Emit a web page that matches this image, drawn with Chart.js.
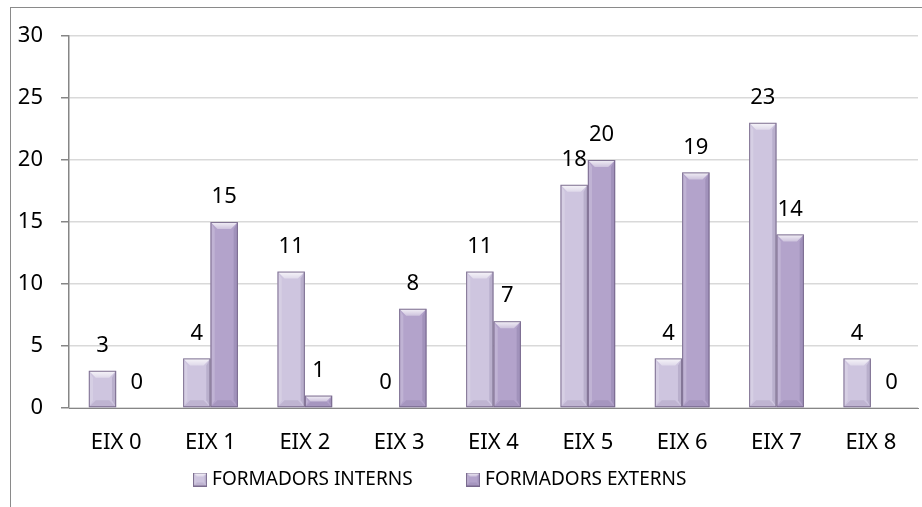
<!DOCTYPE html>
<html>
<head>
<meta charset="utf-8">
<script src="https://cdn.jsdelivr.net/npm/chart.js@4.4.0/dist/chart.umd.min.js"></script>
<style>
  html, body { margin: 0; padding: 0; background: #fff; overflow: hidden; }
  #wrap { position: relative; width: 922px; height: 507px; }
  #frame { position: absolute; left: 10px; top: 7px; width: 940px; height: 540px; border: 1px solid #8a8a8a; box-sizing: border-box; }
  canvas { position: absolute; left: 0; top: 0; }
</style>
</head>
<body>
<div id="wrap">
  <div id="frame"></div>
  <canvas id="c" width="922" height="507"></canvas>
</div>
<script>
const categories = ["EIX 0", "EIX 1", "EIX 2", "EIX 3", "EIX 4", "EIX 5", "EIX 6", "EIX 7", "EIX 8"];
const seriesNames = ["FORMADORS INTERNS", "FORMADORS EXTERNS"];
const interns = [3, 4, 11, 0, 11, 18, 4, 23, 4];
const externs = [0, 15, 1, 8, 7, 20, 19, 14, 0];
const yTicks = [0, 5, 10, 15, 20, 25, 30];

const FONT = "'Noto Sans', 'Open Sans', sans-serif";
const faceColors = ['#cec5df', '#b3a3cb'];

function drawBevel(ctx, left, top, w, h) {
  const right = left + w, bottom = top + h;
  const b = Math.min(7, w * 0.28, h / 2);
  ctx.save();
  ctx.beginPath();
  ctx.moveTo(left, top); ctx.lineTo(right, top);
  ctx.lineTo(right - b, top + b); ctx.lineTo(left + b, top + b); ctx.closePath();
  const g = ctx.createLinearGradient(0, top, 0, top + b);
  g.addColorStop(0, 'rgba(255,255,255,0.85)');
  g.addColorStop(1, 'rgba(255,255,255,0.35)');
  ctx.fillStyle = g; ctx.fill();
  ctx.beginPath();
  ctx.moveTo(left, top); ctx.lineTo(left + b * 0.6, top + b);
  ctx.lineTo(left + b * 0.6, bottom - b); ctx.lineTo(left, bottom); ctx.closePath();
  ctx.fillStyle = 'rgba(255,255,255,0.18)'; ctx.fill();
  ctx.beginPath();
  ctx.moveTo(right, top); ctx.lineTo(right - b * 0.6, top + b);
  ctx.lineTo(right - b * 0.6, bottom - b); ctx.lineTo(right, bottom); ctx.closePath();
  ctx.fillStyle = 'rgba(60,40,90,0.14)'; ctx.fill();
  ctx.beginPath();
  ctx.moveTo(left, bottom); ctx.lineTo(left + b, bottom - b);
  ctx.lineTo(right - b, bottom - b); ctx.lineTo(right, bottom); ctx.closePath();
  ctx.fillStyle = 'rgba(60,40,90,0.10)'; ctx.fill();
  ctx.strokeStyle = 'rgba(110,95,130,0.85)';
  ctx.lineWidth = 1;
  ctx.strokeRect(left + 0.5, top + 0.5, w - 1, h - 1);
  ctx.restore();
}

function makeMarker(color) {
  const c = document.createElement('canvas');
  c.width = 14; c.height = 14;
  const x = c.getContext('2d');
  x.fillStyle = color; x.fillRect(0, 0, 14, 14);
  drawBevel(x, 0, 0, 14, 14);
  return c;
}
const markers = faceColors.map(makeMarker);

const bevelPlugin = {
  id: 'bevel',
  afterDatasetsDraw(chart) {
    const ctx = chart.ctx;
    chart.data.datasets.forEach((ds, di) => {
      chart.getDatasetMeta(di).data.forEach((bar) => {
        const w = bar.width;
        const top = Math.min(bar.y, bar.base), bottom = Math.max(bar.y, bar.base);
        if (bottom - top < 0.5) return;
        drawBevel(ctx, bar.x - w / 2, top, w, bottom - top);
      });
    });
  }
};

const labelPlugin = {
  id: 'valueLabels',
  afterDatasetsDraw(chart) {
    const ctx = chart.ctx;
    ctx.save();
    ctx.font = '22px ' + FONT;
    ctx.fillStyle = '#000';
    ctx.textAlign = 'center';
    ctx.textBaseline = 'middle';
    chart.data.datasets.forEach((ds, di) => {
      chart.getDatasetMeta(di).data.forEach((bar, i) => {
        const v = ds.data[i];
        let x = bar.x;
        if (v === 0 && di === 1) x += 7;
        ctx.fillText(String(v), x, bar.y - 25);
      });
    });
    ctx.restore();
  }
};

const legendShift = {
  id: 'legendShift',
  afterLayout(chart) {
    const lg = chart.legend;
    if (lg) { lg.left -= 18; lg.right -= 16; lg.top -= 46; lg.bottom -= 46; }
  }
};

new Chart(document.getElementById('c'), {
  type: 'bar',
  data: {
    labels: categories,
    datasets: [
      { label: seriesNames[0], data: interns, backgroundColor: faceColors[0], borderWidth: 0 },
      { label: seriesNames[1], data: externs, backgroundColor: faceColors[1], borderWidth: 0 }
    ]
  },
  options: {
    responsive: false,
    animation: false,
    devicePixelRatio: 1,
    datasets: { bar: { categoryPercentage: 0.58, barPercentage: 1.0 } },
    layout: { padding: { left: 0, right: 4, top: 36, bottom: -38 } },
    scales: {
      x: {
        grid: { display: false, drawTicks: false },
        border: { display: true, color: '#868686', width: 1 },
        ticks: { color: '#000', font: { family: FONT, size: 22 }, padding: 22, maxRotation: 0, autoSkip: false },
        afterFit(s) { s.height = 50; }
      },
      y: {
        min: 0, max: 30,
        afterBuildTicks(s) { s.ticks = yTicks.map(v => ({ value: v })); },
        grid: { color: '#d9d9d9', lineWidth: 1.5, tickLength: 8, tickColor: '#868686' },
        border: { display: true, color: '#868686', width: 1.5 },
        ticks: { color: '#000', font: { family: FONT, size: 22 }, padding: 18 },
        afterFit(s) { s.width = 69; }
      }
    },
    plugins: {
      legend: {
        position: 'bottom',
        labels: {
          color: '#000',
          font: { family: FONT, size: 19 },
          usePointStyle: true,
          boxWidth: 5, boxHeight: 14,
          padding: 58,
          generateLabels(chart) {
            return chart.data.datasets.map((ds, i) => ({
              text: ds.label,
              fillStyle: ds.backgroundColor,
              strokeStyle: ds.backgroundColor,
              lineWidth: 0,
              pointStyle: markers[i],
              hidden: false,
              datasetIndex: i,
              fontColor: '#000'
            }));
          }
        }
      },
      tooltip: { enabled: false }
    }
  },
  plugins: [bevelPlugin, labelPlugin, legendShift]
});
</script>
</body>
</html>
